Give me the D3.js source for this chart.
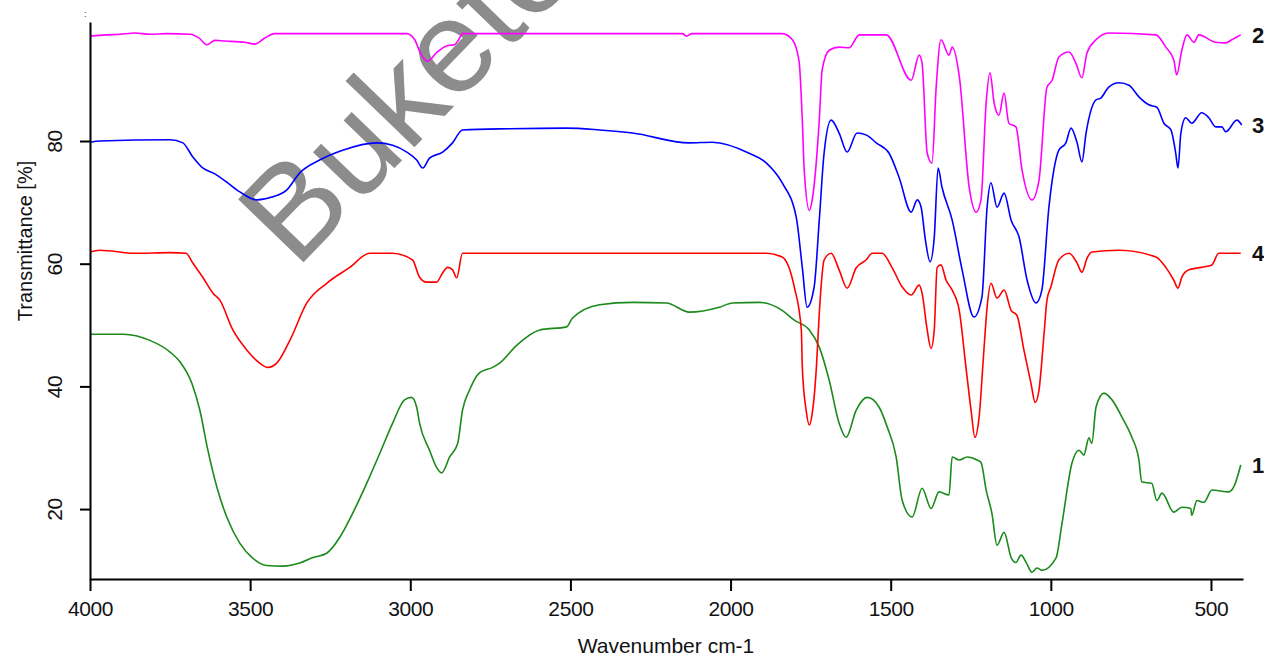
<!DOCTYPE html>
<html>
<head>
  <meta charset="utf-8">
  <title>FTIR spectra</title>
  <script src="https://cdn.jsdelivr.net/npm/d3@7"></script>
  <style>
    body { margin: 0; background: #fff; }
    text { font-family: "Liberation Sans", Arial, sans-serif; }
  </style>
</head>
<body>
  <svg width="1264" height="657" id="chart"></svg>
  <script>
    // values: [wavenumber, transmittance %]
    const wavenumberTicks = [4000, 3500, 3000, 2500, 2000, 1500, 1000, 500];
    const transmittanceTicks = [20, 40, 60, 80];
    const seriesLabels = ['1', '2', '3', '4'];

    const spectrum1 = [[4000,48.5],[3897,48.5],[3813,47.5],[3750,45.6],[3719,44.0],[3682,40.5],[3657,36.1],[3632,29.6],[3604,23.6],[3573,18.7],[3532,14.4],[3492,12.0],[3448,10.8],[3398,10.7],[3345,11.2],[3304,12.1],[3261,12.8],[3220,15.4],[3180,19.3],[3136,24.2],[3095,29.1],[3055,34.0],[3018,37.8],[2996,38.2],[2980,36.6],[2971,34.0],[2940,29.6],[2918,26.8],[2902,25.9],[2877,28.5],[2852,30.7],[2837,36.1],[2815,39.4],[2784,42.2],[2743,43.1],[2721,43.8],[2668,46.7],[2596,49.2],[2512,49.7],[2494,51.1],[2409,53.3],[2306,53.7],[2200,53.6],[2129,52.1],[2035,52.9],[1994,53.6],[1910,53.7],[1839,52.4],[1801,50.8],[1754,49.2],[1723,46.4],[1692,41.0],[1661,34.0],[1639,31.7],[1608,36.1],[1573,38.2],[1536,36.6],[1511,33.4],[1483,28.5],[1464,21.4],[1433,18.7],[1402,23.4],[1374,20.1],[1349,22.8],[1318,22.3],[1308,28.5],[1286,28.0],[1261,28.5],[1230,28.0],[1218,27.6],[1202,23.1],[1184,19.3],[1168,14.1],[1146,16.2],[1124,12.1],[1109,11.3],[1093,12.5],[1077,11.3],[1059,9.7],[1043,10.4],[1028,10.0],[984,12.0],[965,17.7],[934,27.5],[912,29.6],[897,28.8],[881,31.6],[872,30.7],[859,36.6],[834,38.9],[809,37.8],[778,35.0],[747,31.7],[725,28.0],[716,24.4],[685,24.2],[669,21.4],[653,22.6],[616,19.5],[591,20.3],[563,20.1],[560,19.0],[544,21.4],[522,21.1],[497,23.1],[444,22.8],[429,23.6],[407,27.2]];

    const spectrum2 = [[4000,97.1],[3950,97.3],[3906,97.4],[3860,97.6],[3813,97.4],[3760,97.5],[3688,97.4],[3660,96.8],[3635,95.7],[3610,96.4],[3579,96.3],[3517,96.1],[3485,95.8],[3454,96.8],[3423,97.5],[3011,97.5],[2986,96.5],[2971,94.6],[2946,93.0],[2918,94.4],[2887,95.5],[2862,95.7],[2849,96.5],[2837,97.5],[2150,97.5],[2138,97.1],[2120,97.5],[1839,97.5],[1807,96.5],[1786,93.0],[1776,83.4],[1770,75.3],[1754,68.7],[1745,70.4],[1723,83.4],[1714,91.6],[1692,94.8],[1661,95.3],[1630,95.2],[1598,97.3],[1514,97.3],[1436,89.9],[1411,94.0],[1402,92.7],[1386,78.0],[1371,76.4],[1358,88.8],[1343,96.5],[1318,94.0],[1308,95.3],[1286,90.6],[1255,72.5],[1233,68.4],[1218,70.4],[1202,86.2],[1190,91.1],[1177,86.2],[1162,84.2],[1146,87.8],[1131,82.9],[1109,82.3],[1090,75.3],[1059,70.4],[1037,73.6],[1012,88.8],[996,89.9],[975,93.7],[943,94.5],[922,92.7],[903,90.3],[887,94.4],[859,96.5],[819,97.6],[672,97.3],[641,95.3],[616,93.2],[607,90.8],[591,94.8],[575,97.3],[553,96.1],[538,97.3],[485,96.1],[454,96.0],[435,96.5],[407,97.3]];

    const spectrum3 = [[4000,79.8],[3969,80.0],[3750,80.2],[3710,79.7],[3679,77.4],[3648,75.6],[3616,74.8],[3573,73.3],[3532,71.7],[3479,70.4],[3429,70.9],[3386,72.0],[3345,74.8],[3283,76.9],[3211,78.5],[3105,79.7],[3055,79.3],[3011,78.2],[2980,76.9],[2961,75.6],[2940,77.2],[2899,78.2],[2868,79.7],[2837,81.8],[2690,82.0],[2512,82.1],[2409,81.8],[2306,81.3],[2129,79.7],[2057,79.8],[1942,78.0],[1888,76.4],[1839,73.2],[1795,67.6],[1776,59.4],[1761,52.9],[1739,56.2],[1723,67.1],[1708,78.0],[1686,83.4],[1661,81.3],[1636,78.2],[1605,81.3],[1577,81.0],[1545,79.7],[1505,78.0],[1474,74.1],[1436,68.4],[1417,70.4],[1405,69.2],[1392,64.0],[1377,60.3],[1364,64.3],[1352,75.6],[1340,72.5],[1308,67.1],[1277,59.0],[1240,51.3],[1215,54.6],[1199,69.2],[1187,73.2],[1168,69.2],[1146,71.5],[1124,67.1],[1099,64.3],[1074,57.3],[1046,53.6],[1028,55.7],[1006,69.2],[975,78.5],[953,79.7],[937,82.1],[918,79.7],[903,76.6],[890,81.3],[859,86.7],[844,87.0],[819,88.8],[787,89.5],[756,89.1],[725,87.2],[694,85.9],[669,85.5],[647,82.9],[625,81.8],[610,78.0],[603,75.6],[594,81.3],[579,83.8],[560,82.9],[529,84.6],[507,83.8],[485,82.3],[466,82.3],[454,81.5],[419,83.4],[404,82.6]];

    const spectrum4 = [[4000,61.9],[3969,62.2],[3860,61.7],[3750,61.8],[3700,61.7],[3679,60.1],[3648,57.8],[3616,55.2],[3595,54.1],[3554,49.2],[3510,45.9],[3470,43.8],[3445,43.1],[3417,43.8],[3376,47.5],[3323,53.6],[3261,56.8],[3189,59.4],[3127,61.7],[3055,61.7],[2993,60.6],[2971,57.8],[2949,57.0],[2918,57.0],[2899,58.5],[2883,59.4],[2868,59.0],[2855,57.7],[2837,61.7],[2150,61.7],[1888,61.7],[1839,61.1],[1801,56.2],[1779,49.2],[1776,43.1],[1764,36.1],[1754,33.7],[1745,35.6],[1732,43.1],[1723,51.9],[1708,60.6],[1686,61.7],[1661,59.0],[1636,56.0],[1608,59.3],[1577,60.6],[1558,61.7],[1527,61.7],[1496,59.4],[1464,56.2],[1436,54.9],[1411,56.5],[1402,55.2],[1386,49.2],[1374,46.2],[1364,49.2],[1355,59.4],[1343,59.8],[1327,57.3],[1308,55.7],[1286,52.4],[1265,43.1],[1249,36.1],[1237,31.7],[1224,35.0],[1209,45.9],[1199,52.9],[1187,56.8],[1168,54.4],[1146,55.7],[1124,52.4],[1106,51.6],[1084,45.9],[1062,40.5],[1049,37.4],[1037,39.4],[1021,48.7],[1012,54.1],[1000,56.2],[975,60.6],[943,61.7],[918,60.1],[903,58.6],[887,60.9],[872,61.9],[787,62.2],[672,61.1],[641,59.4],[616,57.3],[603,56.0],[591,57.8],[569,59.0],[529,59.4],[497,59.8],[476,61.7],[451,61.7],[407,61.7]];

    const spectra = [spectrum1, spectrum2, spectrum3, spectrum4];
    const colors = ['#1a8a1a', '#ff00ff', '#0000ff', '#ff0000'];

    const svg = d3.select('#chart');

    const xScale = d3.scaleLinear().domain([4000, 400]).range([90, 1243]);
    const yScale = d3.scaleLinear().domain([8.6, 99.4]).range([579, 22]);

    // watermark sits under the traces
    svg.append('text')
      .attr('transform', 'translate(296,270) rotate(-46)')
      .attr('font-size', 132)
      .attr('fill', '#8c8c8c')
      .text('Buketov');

    const line = d3.line()
      .x(d => xScale(d[0]))
      .y(d => yScale(d[1]))
      .curve(d3.curveMonotoneX);

    const traces = svg.append('g');
    [0, 3, 2, 1].forEach(i => {
      traces.append('path')
        .datum(spectra[i])
        .attr('d', line)
        .attr('fill', 'none')
        .attr('stroke', colors[i])
        .attr('stroke-width', 1.6)
        .attr('stroke-linejoin', 'round');
    });

    // series numbers at the right end of every trace
    spectra.forEach((s, i) => {
      svg.append('text')
        .attr('x', 1252)
        .attr('y', yScale(s[s.length - 1][1]))
        .attr('dy', '0.36em')
        .attr('font-size', 22)
        .attr('font-weight', 'bold')
        .attr('fill', '#111')
        .text(seriesLabels[i]);
    });

    // x axis
    const xAxis = svg.append('g')
      .attr('transform', 'translate(0,579)')
      .call(d3.axisBottom(xScale).tickValues(wavenumberTicks).tickFormat(d3.format('d'))
        .tickSize(12).tickSizeOuter(0).tickPadding(10));
    xAxis.select('.domain').attr('stroke', '#000').attr('stroke-width', 2);
    xAxis.selectAll('.tick line').attr('stroke', '#000').attr('stroke-width', 2);
    xAxis.selectAll('.tick text')
      .attr('font-size', 21)
      .attr('font-family', '"Liberation Sans", Arial, sans-serif')
      .attr('letter-spacing', '-0.4px')
      .attr('fill', '#111');

    // y axis, labels turned to read bottom-up
    const yAxis = svg.append('g')
      .attr('transform', 'translate(90,0)')
      .call(d3.axisLeft(yScale).tickValues(transmittanceTicks).tickFormat(d3.format('d'))
        .tickSize(10).tickSizeOuter(0));
    yAxis.select('.domain').attr('stroke', '#000').attr('stroke-width', 2);
    yAxis.selectAll('.tick line').attr('stroke', '#000').attr('stroke-width', 2);
    yAxis.selectAll('.tick text')
      .attr('x', 0).attr('y', 0).attr('dy', 0)
      .attr('text-anchor', 'middle')
      .attr('transform', 'translate(-28,0) rotate(-90)')
      .attr('font-size', 21)
      .attr('font-family', '"Liberation Sans", Arial, sans-serif')
      .attr('letter-spacing', '-0.4px')
      .attr('fill', '#111');

    // axis titles
    svg.append('text')
      .attr('x', 666)
      .attr('y', 653)
      .attr('text-anchor', 'middle')
      .attr('font-size', 21)
      .attr('fill', '#111')
      .text('Wavenumber cm-1');

    svg.append('text')
      .attr('transform', 'translate(32,241) rotate(-90)')
      .attr('text-anchor', 'middle')
      .attr('font-size', 20)
      .attr('fill', '#111')
      .text('Transmittance [%]');

    svg.append('text')
      .attr('x', 84)
      .attr('y', 17)
      .attr('font-size', 9)
      .attr('fill', '#333')
      .text(':');
  </script>
</body>
</html>
